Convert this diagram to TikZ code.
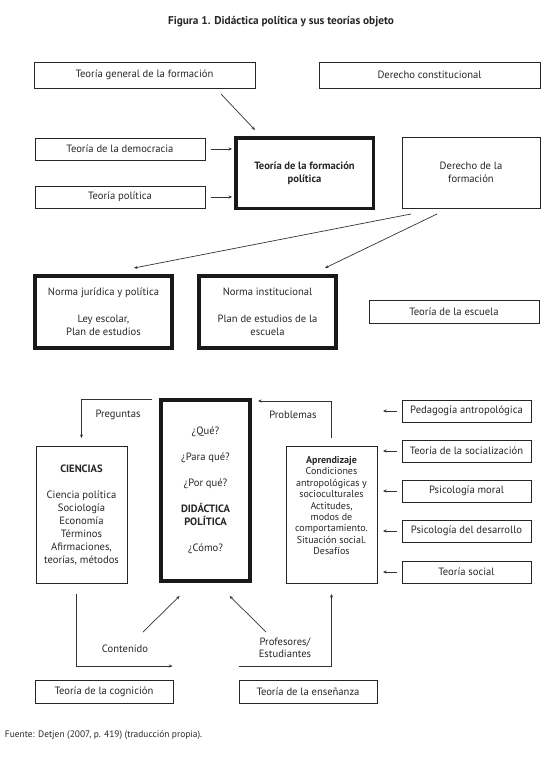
\documentclass[tikz,border=0pt]{standalone}
\usepackage{fontspec}
\setmainfont{PT Sans}
\usetikzlibrary{arrows.meta}
\begin{document}
\begin{tikzpicture}[x=1pt,y=-1pt,
  every node/.style={font=\fontsize{10.6}{13}\selectfont, inner sep=0pt, outer sep=0pt, text=black!85},
  thinbox/.style={draw=black!85, line width=0.8pt, align=center},
  boldbox/.style={draw=black!90, line width=3.5pt, align=center},
  conn/.style={draw=black!80, line width=0.7pt},
  arr/.style={conn, -{Stealth[length=3.5pt,width=3pt]}},
  rbox/.style={thinbox, minimum width=129pt, minimum height=22pt},
]
\useasboundingbox (0,0) rectangle (553,782);

\node[font=\bfseries\fontsize{11.3}{12}\selectfont] (title) at (281,22) {Figura 1. Didáctica política y sus teorías objeto};

\node[thinbox, minimum width=221pt, minimum height=26pt] (tgf) at (144.5,75) {Teoría general de la formación};
\node[thinbox, minimum width=221pt, minimum height=26pt] (dc) at (429.5,75) {Derecho constitucional};
\node[thinbox, minimum width=170pt, minimum height=22pt] (dem) at (120,149) {Teoría de la democracia};
\node[thinbox, minimum width=170pt, minimum height=22pt] (pol) at (120,197) {Teoría política};
\node[boldbox, minimum width=137.5pt, minimum height=70.5pt, font=\bfseries\fontsize{10.6}{13}\selectfont] (tfp) at (304.5,173) {Teoría de la formación\\política};
\node[thinbox, minimum width=138pt, minimum height=71pt] (df) at (471,172.5) {Derecho de la\\formación};

\node[boldbox, minimum width=137pt, minimum height=72pt] (nj) at (103.5,312) {Norma jurídica y política\\[14pt]Ley escolar,\\Plan de estudios};
\node[boldbox, minimum width=137pt, minimum height=72pt] (ni) at (267.5,312) {Norma institucional\\[14pt]Plan de estudios de la\\escuela};
\node[thinbox, minimum width=170pt, minimum height=23pt] (te) at (454,311.5) {Teoría de la escuela};

\node[thinbox, minimum width=91pt, minimum height=137pt] (cien) at (81.5,514.5) {\textbf{CIENCIAS}\\[13pt]Ciencia política\\Sociología\\Economía\\Términos\\Afirmaciones,\\teorías, métodos};
\node[boldbox, minimum width=89pt, minimum height=181pt] (did) at (205.5,490.5) {¿Qué?\\[13pt]¿Para qué?\\[13pt]¿Por qué?\\[13pt]\textbf{DIDÁCTICA}\\\textbf{POLÍTICA}\\[13pt]¿Cómo?};
\node[thinbox, minimum width=91pt, minimum height=137pt] (apr) at (331.5,514.5) {};
\node[align=center, font=\fontsize{10}{11.4}\selectfont] (aprt) at (331.5,505.5) {\textbf{Aprendizaje}\\Condiciones\\antropológicas y\\socioculturales\\Actitudes,\\modos de\\comportamiento.\\Situación social.\\Desafíos};

\node[rbox] (ped) at (466.5,411) {Pedagogía antropológica};
\node[rbox] (soc) at (466.5,451) {Teoría de la socialización};
\node[rbox] (mor) at (466.5,491) {Psicología moral};
\node[rbox] (des) at (466.5,531) {Psicología del desarrollo};
\node[rbox] (ts) at (466.5,572) {Teoría social};

\node[thinbox, minimum width=138pt, minimum height=23pt] (cog) at (104,691.5) {Teoría de la cognición};
\node[thinbox, minimum width=138pt, minimum height=23pt] (ens) at (308,691.5) {Teoría de la enseñanza};

\node[anchor=west, font=\fontsize{9.4}{11}\selectfont] (src) at (5,735) {Fuente: Detjen (2007, p. 419) (traducción propia).};

% labels
\node (lpreg) at (118,415) {Preguntas};
\node (lprob) at (293,415) {Problemas};
\node (lcont) at (125,649) {Contenido};
\node[align=center, font=\fontsize{10.6}{12.5}\selectfont] (lprof) at (285,648) {Profesores/\\Estudiantes};

% coordinates
\coordinate (a1s) at (221,94);
\coordinate (a1e) at (255,130);
\coordinate (b1s) at (411,214);
\coordinate (b1e) at (134,268);
\coordinate (b2s) at (437,214);
\coordinate (b2e) at (325,268);
\coordinate (ck) at (172.5,666);
\coordinate (d1s) at (143,632);
\coordinate (d1e) at (179.6,596);
\coordinate (d2s) at (266,632);
\coordinate (d2e) at (229.6,596);
\coordinate (pk) at (239,666);

% connectors
\draw[arr] (a1s) -- (a1e);
\draw[arr] ([xshift=6pt]dem.east) -- ++(21,0);
\draw[arr] ([xshift=6pt]pol.east) -- ++(21,0);
\draw[arr] (b1s) -- (b1e);
\draw[arr] (b2s) -- (b2e);

\draw[arr] ([xshift=-9pt,yshift=1pt]did.north west) -| ([yshift=8pt]cien.north);
\draw[arr] ([yshift=8pt]apr.north) |- ([xshift=8pt,yshift=-1pt]did.north east);

\foreach \n in {ped,soc,mor,des,ts}
  \draw[arr] ([xshift=-5pt]\n.west) -- ([xshift=-19pt]\n.west);

\draw[arr] ([xshift=-5.5pt,yshift=-11pt]cien.south) |- (ck);
\draw[arr] (d1s) -- (d1e);
\draw[arr] (d2s) -- (d2e);
\draw[arr] (pk) -| ([yshift=-11pt]apr.south);
\end{tikzpicture}
\end{document}
